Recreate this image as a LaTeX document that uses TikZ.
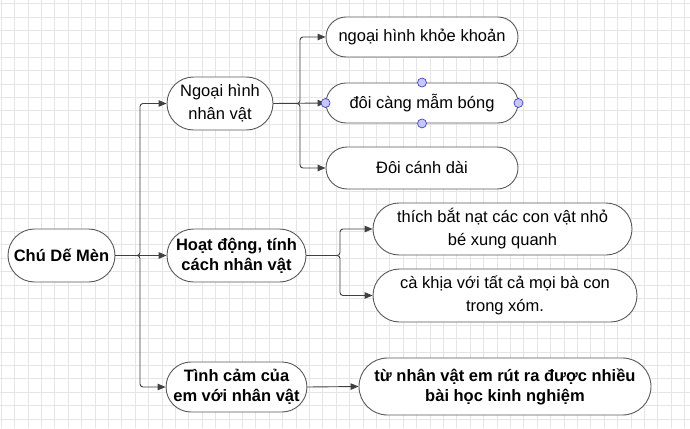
\documentclass[tikz,border=0pt]{standalone}
\usepackage{fontspec}
\setmainfont{Liberation Sans}
\usetikzlibrary{shapes.misc,arrows.meta}
\tikzset{
  gridline/.style={draw=black!10, line width=0.6pt},
  box/.style={rounded rectangle, draw=black!65, line width=0.9pt, fill=white, align=center, inner sep=0pt, font=\fontsize{16.5}{23}\selectfont},
  boldbox/.style={box, font=\fontsize{16.5}{20}\selectfont\bfseries},
  conn/.style={draw=black!75, line width=0.9pt, -{Triangle[length=8pt,width=6.5pt]}, rounded corners=3pt},
  seldot/.style={circle, draw=blue!45!gray, fill=blue!22, minimum size=9pt, inner sep=0pt, line width=0.7pt}
}
\begin{document}
\begin{tikzpicture}[x=1pt,y=-1pt]
\useasboundingbox (0,0) rectangle (690,428);
\fill[white] (0,0) rectangle (690,428);
\foreach \i in {0,...,51} \draw[gridline] ({1+13.4*\i},0) -- ({1+13.4*\i},428);
\foreach \i in {0,...,31} \draw[gridline] (0,{3.5+13.4*\i}) -- (690,{3.5+13.4*\i});

% nodes
\node[boldbox, minimum width=107pt, minimum height=53pt] (root) at (61.5,255.5) {Chú Dế Mèn};
\node[box, minimum width=106pt, minimum height=53pt] (ngoai) at (220,103.5) {Ngoại hình\\nhân vật};
\node[boldbox, minimum width=139pt, minimum height=53pt] (hoat) at (236.5,255.5) {Hoạt động, tính\\cách nhân vật};
\node[boldbox, minimum width=139pt, minimum height=50pt] (tinh) at (236.5,387) {Tình cảm của\\em với nhân vật};

\node[box, minimum width=192pt, minimum height=40pt] (khoe) at (422,37) {ngoại hình khỏe khoản};
\node[box, minimum width=192pt, minimum height=40pt] (cang) at (422,103) {đôi càng mẫm bóng};
\node[box, minimum width=192pt, minimum height=42pt] (canh) at (422,168) {Đôi cánh dài};

\node[box, minimum width=259pt, minimum height=52pt] (bat) at (502.5,229) {thích bắt nạt các con vật nhỏ\\bé xung quanh};
\node[box, minimum width=264pt, minimum height=53pt] (khia) at (505,295.5) {cà khịa với tất cả mọi bà con\\trong xóm.};
\node[boldbox, minimum width=292pt, minimum height=57pt] (rut) at (505,386.5) {từ nhân vật em rút ra được nhiều\\bài học kinh nghiệm};

% branch points
\coordinate (b1) at (140,255.5);
\coordinate (b2) at (300,103.5);
\coordinate (b3) at (340,255.5);

% connectors
\draw[conn] (root.east) -- (b1) |- (ngoai.west);
\draw[conn] (root.east) -- (hoat.west);
\draw[conn] (root.east) -- (b1) |- (tinh.west);

\draw[conn] (ngoai.east) -- (b2) |- (khoe.west);
\draw[conn] (ngoai.east) -- (cang.west);
\draw[conn] (ngoai.east) -- (b2) |- (canh.west);

\draw[conn] (hoat.east) -- (b3) |- (bat.west);
\draw[conn] (hoat.east) -- (b3) |- (khia.west);

\draw[conn] (tinh.east) -- (rut.west);

% selection handles
\node[seldot] (h1) at (cang.west) {};
\node[seldot] (h2) at (cang.east) {};
\node[seldot] (h3) at (cang.north) {};
\node[seldot] (h4) at (cang.south) {};
\end{tikzpicture}
\end{document}
